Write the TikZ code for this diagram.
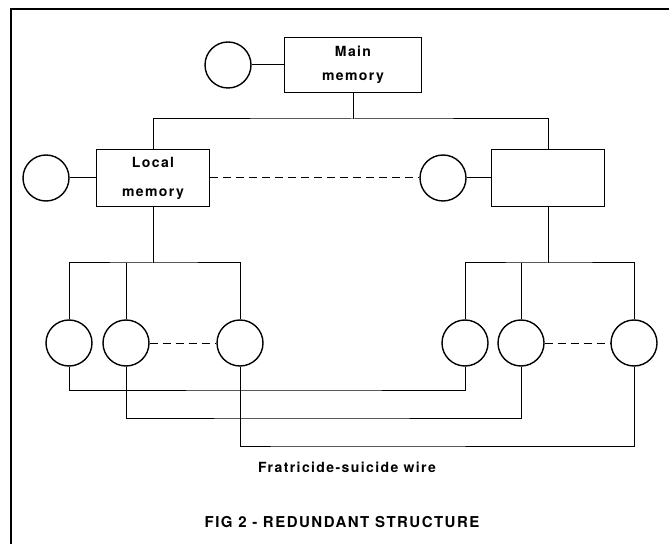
\documentclass[tikz,border=0pt]{standalone}
\usepackage{fontspec}
\setmainfont{TeX Gyre Heros}
\newfontfamily\spacedfont[LetterSpace=10]{TeX Gyre Heros}
\usetikzlibrary{positioning}

\begin{document}
\begin{tikzpicture}[
        x=1pt, y=1pt,
        node distance=57pt,
        memblock/.style={rectangle, draw, line width=1.6pt, minimum width=113pt, minimum height=57pt, align=center, font=\spacedfont\bfseries\fontsize{14}{29}\selectfont},
        proc/.style={circle, draw, line width=1.4pt, minimum size=46pt, inner sep=0pt},
        line/.style={draw, line width=1pt},
        dashline/.style={draw, line width=1pt, dash pattern=on 8pt off 5pt},
        caption/.style={inner sep=0pt, font=\spacedfont\bfseries\fontsize{14}{16}\selectfont}
    ]
    \useasboundingbox (0,0) rectangle (669,544);
    \draw [line width=1.2pt] (11,0) -- (11,535) -- (669,535);
    % memories and their processors
    \node [memblock, minimum width=137pt, minimum height=55pt, font=\spacedfont\bfseries\fontsize{14}{24}\selectfont] (mainmem) at (353,479) {Main\\memory};
    \node [proc, left of=mainmem, node distance=125pt] (mainproc) {};
    \node [memblock] (localmem) at (153,366) {Local\\memory};
    \node [proc, left of=localmem, node distance=107pt] (localproc) {};
    \node [memblock] (sparemem) at (548,366) {};
    \node [proc, left of=sparemem, node distance=105pt] (spareproc) {};
    % processor rows
    \node [proc] (pa1) at (69,201) {};
    \node [proc, right of=pa1] (pa2) {};
    \node [proc, right of=pa2, node distance=114pt] (pa3) {};
    \node [proc] (pb1) at (465,201) {};
    \node [proc, right of=pb1, node distance=56pt] (pb2) {};
    \node [proc, right of=pb2, node distance=113pt] (pb3) {};
    \coordinate (topbus) at (353,425);
    \coordinate (leftbus) at (153,281);
    \coordinate (rightbus) at (548,281);
    \coordinate (wire1) at (300,154);
    \coordinate (wire2) at (300,126);
    \coordinate (wire3) at (300,98);
    \path [line] (mainproc) -- (mainmem);
    \path [line] (mainmem) -- (topbus);
    \path [line] (localmem) |- (topbus) -| (sparemem);
    \path [line] (localproc) -- (localmem);
    \path [line] (spareproc) -- (sparemem);
    \path [dashline] (localmem) -- (spareproc);
    \path [line] (localmem) -- (leftbus);
    \path [line] (pa1) |- (leftbus) -| (pa3);
    \path [line] (pa2) -- (pa2 |- leftbus);
    \path [line] (sparemem) -- (rightbus);
    \path [line] (pb1) |- (rightbus) -| (pb3);
    \path [line] (pb2) -- (pb2 |- rightbus);
    \path [dashline] (pa2) -- (pa3);
    \path [dashline] (pb2) -- (pb3);
    % fratricide-suicide wires
    \path [line] (pa1) |- (wire1) -| (pb1);
    \path [line] (pa2) |- (wire2) -| (pb2);
    \path [line] (pa3) |- (wire3) -| (pb3);
    \node [caption] (wirelabel) at (347,77) {Fratricide-suicide wire};
    \node [caption, font=\spacedfont\bfseries\fontsize{15}{18}\selectfont] (figtitle) at (342,22) {FIG 2 - REDUNDANT STRUCTURE};
\end{tikzpicture}
\end{document}
